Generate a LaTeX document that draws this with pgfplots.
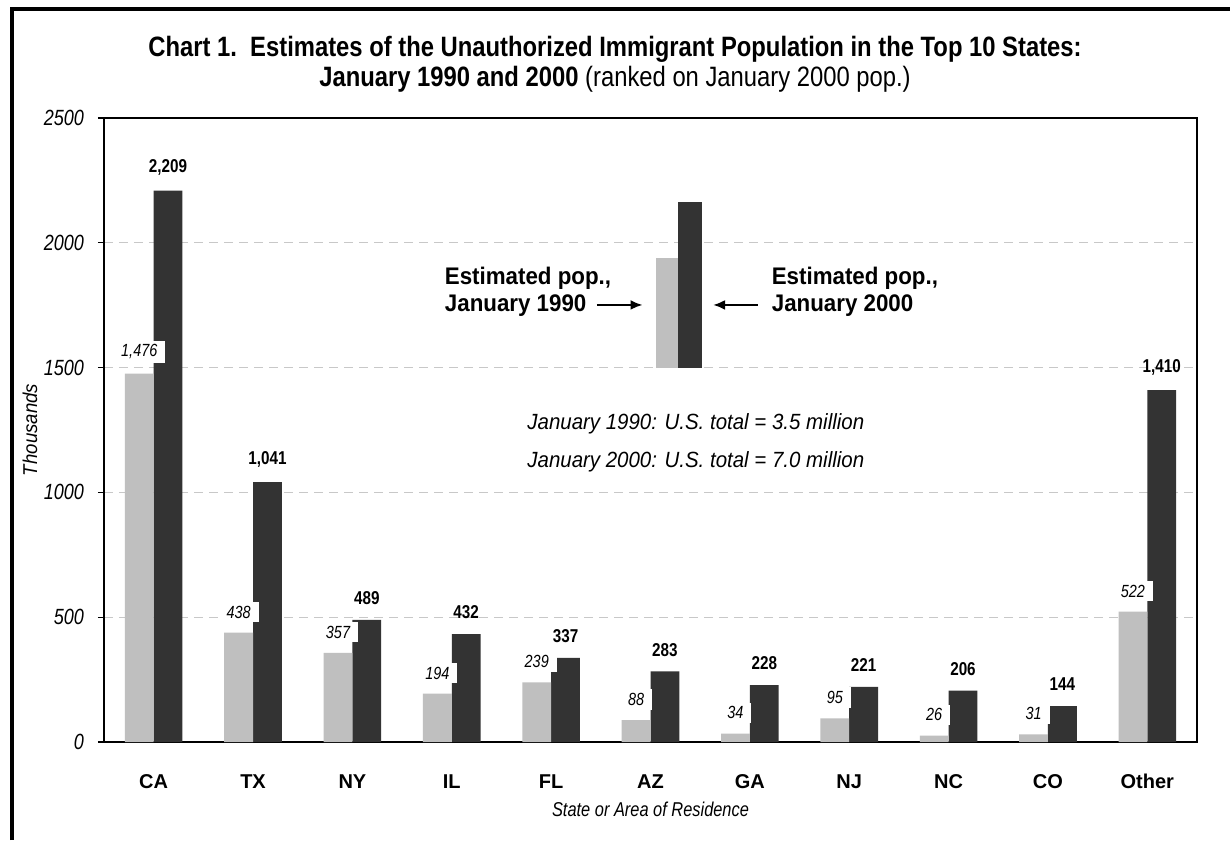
\documentclass[border=0pt]{standalone}
\usepackage{pgfplots}
\pgfplotsset{compat=1.18}
\usetikzlibrary{arrows.meta}
\usepackage{fontspec}
\setmainfont{Liberation Sans}
\newfontfamily\titlefont[FakeStretch=0.85]{Liberation Sans}
\newfontfamily\labfont[FakeStretch=0.82]{Liberation Sans}
\newfontfamily\notefont[FakeStretch=0.93]{Liberation Sans}
\definecolor{lightbar}{HTML}{BFBFBF}
\definecolor{darkbar}{HTML}{333333}
\definecolor{gridgray}{HTML}{C8C8C8}

\begin{document}
\begin{tikzpicture}
% page: 1230x840 px at 0.5pt per px, origin at the axis' lower left corner
\path[use as bounding box, fill=white] (-52pt,-49pt) rectangle (563pt,371pt);
\draw[line width=2pt] (-46pt,-49pt) -- (-46pt,366.5pt) -- (563pt,366.5pt);

\node[anchor=base, font=\titlefont\fontsize{14}{16}\selectfont\bfseries] at (255.5pt,342.5pt)
  {Chart 1.\ \ Estimates of the Unauthorized Immigrant Population in the Top 10 States:};
\node[anchor=base, font=\titlefont\fontsize{14}{16}\selectfont] at (255.5pt,327.5pt)
  {\textbf{January 1990 and 2000} (ranked on January 2000 pop.)};

\begin{axis}[
  at={(0,0)}, anchor=south west,
  scale only axis, width=546.5pt, height=312pt,
  xmin=-0.5, xmax=10.5, ymin=0, ymax=2500,
  xtick={0,...,10},
  xticklabels={CA,TX,NY,IL,FL,AZ,GA,NJ,NC,CO,Other},
  ytick={0,500,...,2500},
  yticklabels={0,500,1000,1500,2000,2500},
  /pgf/number format/assume math mode=true,
  xticklabel style={font=\fontsize{10}{12}\selectfont\bfseries, text height=7.5pt, text depth=0pt, yshift=-9pt},
  yticklabel style={font=\labfont\fontsize{11}{13}\selectfont\itshape, xshift=-3.5pt},
  xtick style={draw=none},
  ytick pos=left, tick align=outside, major tick length=3pt,
  ytick style={line width=0.6pt, black},
  axis line style={line width=1pt},
  ymajorgrids,
  grid style={gridgray, line width=0.6pt, dash pattern=on 4.5pt off 3pt},
  ylabel={Thousands},
  ylabel style={font=\notefont\fontsize{10}{12}\selectfont\itshape, at={(axis description cs:-0.0677,0.5)}, anchor=center},
  xlabel={State or Area of Residence},
  xlabel style={font=\labfont\fontsize{10}{12}\selectfont\itshape, at={(axis description cs:0.5,-0.1074)}, anchor=center},
]
% January 2000 (dark), drawn first so the 1990 label boxes lie over it
\addplot[ybar, bar width=0.29, bar shift=0.145, fill=darkbar, draw=none,
  nodes near coords,
  every node near coord/.append style={font=\labfont\fontsize{9.3}{11}\selectfont\bfseries, anchor=south, xshift=7.2pt, yshift=4pt, text=black}]
  coordinates {(0,2209) (1,1041) (2,489) (3,432) (4,337) (5,283) (6,228) (7,221) (8,206) (9,144) (10,1410)};
% January 1990 (light)
\addplot[ybar, bar width=0.29, bar shift=-0.145, fill=lightbar, draw=none,
  nodes near coords,
  every node near coord/.append style={font=\labfont\fontsize{8.8}{10}\selectfont\itshape, anchor=south, xshift=-7.2pt, yshift=5pt, fill=white, inner xsep=4pt, inner ysep=2pt, text=black}]
  coordinates {(0,1476) (1,438) (2,357) (3,194) (4,239) (5,88) (6,34) (7,95) (8,26) (9,31) (10,522)};

% key: two small bars standing on 1500
\addplot[fill=lightbar, draw=none] coordinates {(5.06,1500) (5.06,1940) (5.275,1940) (5.275,1500)} -- cycle;
\addplot[fill=darkbar, draw=none] coordinates {(5.275,1500) (5.275,2165) (5.52,2165) (5.52,1500)} -- cycle;
\node[anchor=west, align=left, font=\notefont\fontsize{12}{13.5}\selectfont\bfseries] at (axis cs:2.86,1805)
  {Estimated pop.,\\January 1990};
\node[anchor=west, align=left, font=\notefont\fontsize{12}{13.5}\selectfont\bfseries] at (axis cs:6.15,1805)
  {Estimated pop.,\\January 2000};
\draw[line width=1.1pt, -{Latex[length=6pt,width=5pt]}] (axis cs:4.46,1751) -- (axis cs:4.92,1751);
\draw[line width=1.1pt, -{Latex[length=6pt,width=5pt]}] (axis cs:6.08,1751) -- (axis cs:5.63,1751);

\node[font=\notefont\fontsize{11}{13}\selectfont\itshape] at (axis cs:5.456,1274) {January 1990: U.S. total = 3.5 million};
\node[font=\notefont\fontsize{11}{13}\selectfont\itshape] at (axis cs:5.456,1122) {January 2000: U.S. total = 7.0 million};
\end{axis}
\end{tikzpicture}
\end{document}
